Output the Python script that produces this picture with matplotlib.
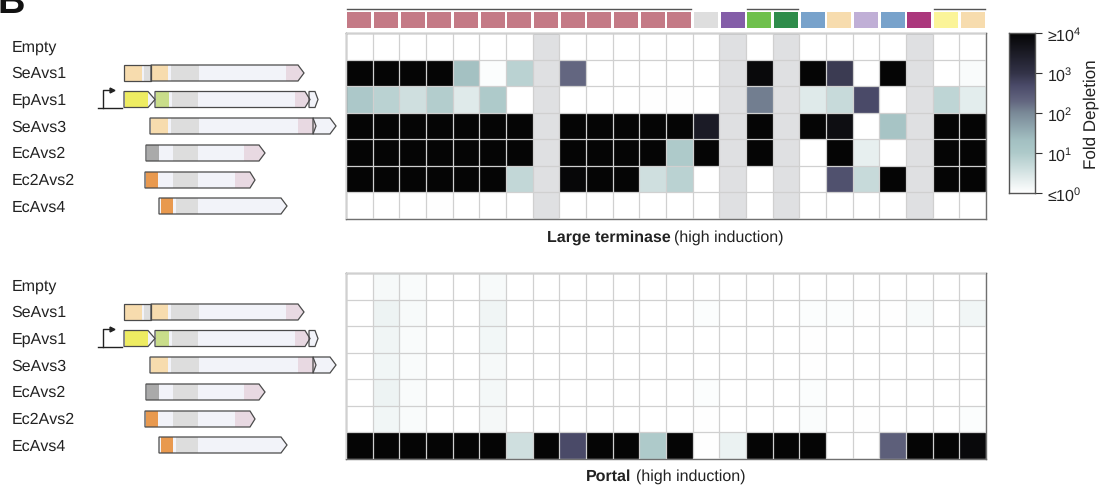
import numpy as np
from matplotlib import pyplot as plt
from matplotlib.colors import LinearSegmentedColormap
from matplotlib.patches import Polygon, Rectangle

plt.rcParams['font.family'] = ['Liberation Sans', 'DejaVu Sans']
plt.rcParams['mathtext.fontset'] = 'custom'
plt.rcParams['mathtext.rm'] = 'Liberation Sans'
plt.rcParams['mathtext.bf'] = 'Liberation Sans:bold'
plt.rcParams['mathtext.default'] = 'regular'
plt.rcParams['text.hinting'] = 'none'
plt.rcParams['text.hinting_factor'] = 1

W, H = 1099, 489
n = np.nan
FS = 11.8

systems = ["Empty", "SeAvs1", "EpAvs1", "SeAvs3", "EcAvs2", "Ec2Avs2", "EcAvs4"]

# log10 fold depletion, nan = not tested (grey columns)
terminase = [
    [0, 0, 0, 0, 0, 0, 0, n, 0, 0, 0, 0, 0, 0, n, 0, n, 0, 0, 0, 0, n, 0, 0],
    [4, 4, 4, 4, 1.3, 0.05, 0.85, n, 2.3, 0, 0, 0, 0, 0, n, 3.9, n, 4, 2.9, 0, 4, n, 0, 0.08],
    [1.05, 0.85, 0.6, 0.95, 0.4, 1.0, 0, n, 0, 0, 0, 0.02, 0.03, 0, n, 2.1, n, 0.4, 0.7, 2.7, 0, n, 0.8, 0.35],
    [4, 4, 4, 4, 4, 4, 4, n, 4, 4, 4, 4, 4, 3.5, n, 4, n, 4, 3.8, 0, 1.2, n, 4, 4],
    [4, 4, 4, 4, 4, 4, 4, n, 4, 4, 4, 4, 1.0, 4, n, 4, n, 0, 4, 0.3, 0, n, 4, 4],
    [4, 4, 4, 4, 4, 4, 0.75, n, 3.95, 4, 4, 0.6, 0.85, 0, n, 0, n, 0, 2.6, 0.7, 4, n, 4, 4],
    [0, 0, 0, 0.03, 0, 0, 0, n, 0, 0, 0, 0, 0, 0, n, 0, n, 0, 0, 0, 0, n, 0, 0],
]
portal = [
    [0, 0.12, 0.08, 0, 0, 0.1, 0, 0, 0, 0, 0, 0, 0, 0, 0, 0, 0, 0, 0, 0, 0, 0, 0, 0],
    [0, 0.22, 0.1, 0, 0, 0.2, 0, 0, 0, 0, 0, 0, 0, 0.06, 0, 0, 0, 0.05, 0.05, 0.03, 0.03, 0.1, 0, 0.18],
    [0, 0.2, 0.08, 0, 0, 0.17, 0, 0, 0, 0, 0, 0, 0, 0, 0, 0, 0, 0.03, 0, 0, 0, 0, 0, 0],
    [0, 0.18, 0.08, 0, 0, 0.12, 0, 0, 0, 0, 0, 0, 0, 0, 0, 0, 0, 0.03, 0, 0, 0, 0, 0, 0],
    [0, 0.22, 0.08, 0, 0, 0.15, 0, 0, 0, 0, 0, 0, 0, 0.05, 0, 0, 0, 0.06, 0, 0, 0, 0, 0, 0],
    [0, 0.18, 0.08, 0, 0, 0.13, 0, 0, 0, 0, 0, 0, 0, 0.03, 0, 0, 0, 0.07, 0, 0.02, 0, 0, 0, 0.05],
    [4, 4, 4, 4, 4, 4, 0.6, 4, 2.7, 4, 4, 1.0, 4, 0.02, 0.25, 4, 4, 4, 0, 0, 2.4, 4, 4, 3.9],
]

phage_colors = ["#c47a86"] * 13 + ["#dedede", "#845ea8", "#6fc04c", "#2e8c4a", "#78a2cb", "#f7dcae",
                                   "#c0afd6", "#78a2cb", "#ab377c", "#fbf499", "#f7dcae"]
# column ranges joined by a line above the colour strip
phage_groups = [(0, 12), (15, 16), (22, 23)]

cbar_ticks = [0, 1, 2, 3, 4]
cbar_labels = ["≤10$^{0}$", "10$^{1}$", "10$^{2}$", "10$^{3}$", "≥10$^{4}$"]

# gene: row, start, body end, tip, [(domain start, domain end, colour)]
TAN, GREY, PINK, ORANGE = "#f7dcae", "#dddddd", "#e8d9e2", "#e8994f"
genes = [
    (1, 124, 151, 151, [(125, 142, TAN), (144, 151, GREY)]),
    (1, 151, 298, 304, [(152, 168, TAN), (171, 199, GREY), (286, 304, PINK)]),
    (2, 124, 148, 155, [(125, 148, "#eeec62")]),
    (2, 155, 305, 310, [(156, 169, "#c9dd8a"), (172, 198, GREY), (295, 310, PINK)]),
    (2, 309, 315, 318, []),
    (3, 150, 313, 316, [(151, 168, TAN), (171, 199, GREY), (298, 316, PINK)]),
    (3, 313, 330, 336, []),
    (4, 146, 259, 265, [(147, 159, "#aaaaaa"), (173, 198, GREY), (244, 265, PINK)]),
    (5, 145, 250, 255, [(146, 158, ORANGE), (173, 198, GREY), (235, 255, PINK)]),
    (6, 159, 281, 287, [(161, 173, ORANGE), (176, 198, GREY)]),
]
row_mid = [47, 74, 100.5, 127, 154, 181, 207]
label_y = [47.5, 73.5, 100.5, 127.5, 153.5, 180.5, 207.5]
panel_shift = [0, 239]

cmap = LinearSegmentedColormap.from_list("depletion", [
    (0, "#ffffff"), (0.25, "#aecaca"), (0.33, "#a3c0c2"), (0.5, "#7a8a98"),
    (0.575, "#636680"), (0.675, "#4a4a68"), (0.75, "#333348"), (1, "#050505")])
cmap.set_bad("#dfe0e2")


def px_axes(fig, x0, y0, x1, y1):
    return fig.add_axes([x0 / W, 1 - y1 / H, (x1 - x0) / W, (y1 - y0) / H])


def draw_heatmap(fig, values, y0, y1):
    ax = px_axes(fig, 346, y0, 986, y1)
    data = np.ma.masked_invalid(np.array(values))
    ax.set_facecolor("#dfe0e2")
    ax.pcolormesh(data, cmap=cmap, vmin=0, vmax=4)
    ax.invert_yaxis()
    ax.set_xticks(np.arange(25))
    ax.set_yticks(np.arange(8))
    ax.tick_params(length=0, labelbottom=False, labelleft=False)
    ax.grid(True, color="#d0d0d0", linewidth=0.9)
    ax.set_axisbelow(False)
    for s in ax.spines.values():
        s.set_color("#707070")
        s.set_linewidth(1)
    return ax


def draw_gene(ov, row, x0, xb, xt, domains, dy):
    top = row_mid[row] - 8 + dy
    bot = row_mid[row] + 8 + dy
    mid = (top + bot) / 2
    outline = [(x0, top), (xb, top), (xt, mid), (xb, bot), (x0, bot)]
    base = Polygon(outline, closed=True, facecolor="#f2f3f9", edgecolor="none", zorder=2)
    ov.add_patch(base)
    for d0, d1, c in domains:
        r = Rectangle((d0, top), d1 - d0, bot - top, facecolor=c, edgecolor="none", zorder=3)
        ov.add_patch(r)
        r.set_clip_path(base)
    ov.add_patch(Polygon(outline, closed=True, fill=False, edgecolor="#4a4a4a", linewidth=0.9, zorder=4))


fig = plt.figure(figsize=(W / 100, H / 100), dpi=100)

draw_heatmap(fig, terminase, 34, 220)
draw_heatmap(fig, portal, 274, 460)

# overlay in pixel coordinates for the gene cartoons, strip and labels
ov = fig.add_axes([0, 0, 1, 1], zorder=5)
ov.set_xlim(0, W)
ov.set_ylim(H, 0)
ov.axis("off")

ov.text(-3, 13, "B", fontsize=27, fontweight="bold", color="#111111", va="baseline", ha="left")

for dy in panel_shift:
    for name, y in zip(systems, label_y):
        ov.text(11.5, y + dy, name, fontsize=FS, va="center", ha="left", color="#222222")
    for row, x0, xb, xt, domains in genes:
        draw_gene(ov, row, x0, xb, xt, domains, dy)
    ov.plot([98, 122], [108.5 + dy, 108.5 + dy], color="#222222", lw=1)
    ov.plot([103, 103, 110], [108.5 + dy, 90.5 + dy, 90.5 + dy], color="#222222", lw=1)
    ov.plot([112], [90.5 + dy], marker=">", ms=3.5, color="#222222")

col_w = 640 / 24
for i, c in enumerate(phage_colors):
    ov.add_patch(Rectangle((346 + i * col_w + 1.3, 13), col_w - 2.6, 16, facecolor=c, edgecolor="none"))
for a, b in phage_groups:
    ov.plot([346 + a * col_w + 1.3, 346 + (b + 1) * col_w - 1.3], [10, 10], color="#555555", lw=1)

# captions: bold part and regular part as two texts
ov.text(547, 242, "Large terminase", fontsize=FS, fontweight="bold", ha="left", va="baseline", color="#222222")
ov.text(674.5, 242, "(high induction)", fontsize=FS, ha="left", va="baseline", color="#222222")
ov.text(586, 481, "Portal", fontsize=FS, fontweight="bold", ha="left", va="baseline", color="#222222")
ov.text(636, 481, "(high induction)", fontsize=FS, ha="left", va="baseline", color="#222222")

# colour bar
cax = px_axes(fig, 1009, 34, 1035, 194)
grad = np.linspace(0, 4, 256).reshape(-1, 1)
cax.imshow(grad, aspect="auto", cmap=cmap, vmin=0, vmax=4, origin="lower", extent=[0, 1, 0, 4])
cax.set_xticks([])
cax.yaxis.tick_right()
cax.set_yticks(cbar_ticks)
cax.set_yticklabels(cbar_labels, fontsize=FS, color="#222222")
cax.tick_params(axis="y", length=5, width=0.8, color="#333333", pad=3.5)
cax.yaxis.set_label_position("right")
cax.set_ylabel("Fold Depletion", fontsize=12.6, color="#222222", labelpad=1)
for s in cax.spines.values():
    s.set_color("#555555")
    s.set_linewidth(1)

fig.savefig("out.png", dpi=100)
